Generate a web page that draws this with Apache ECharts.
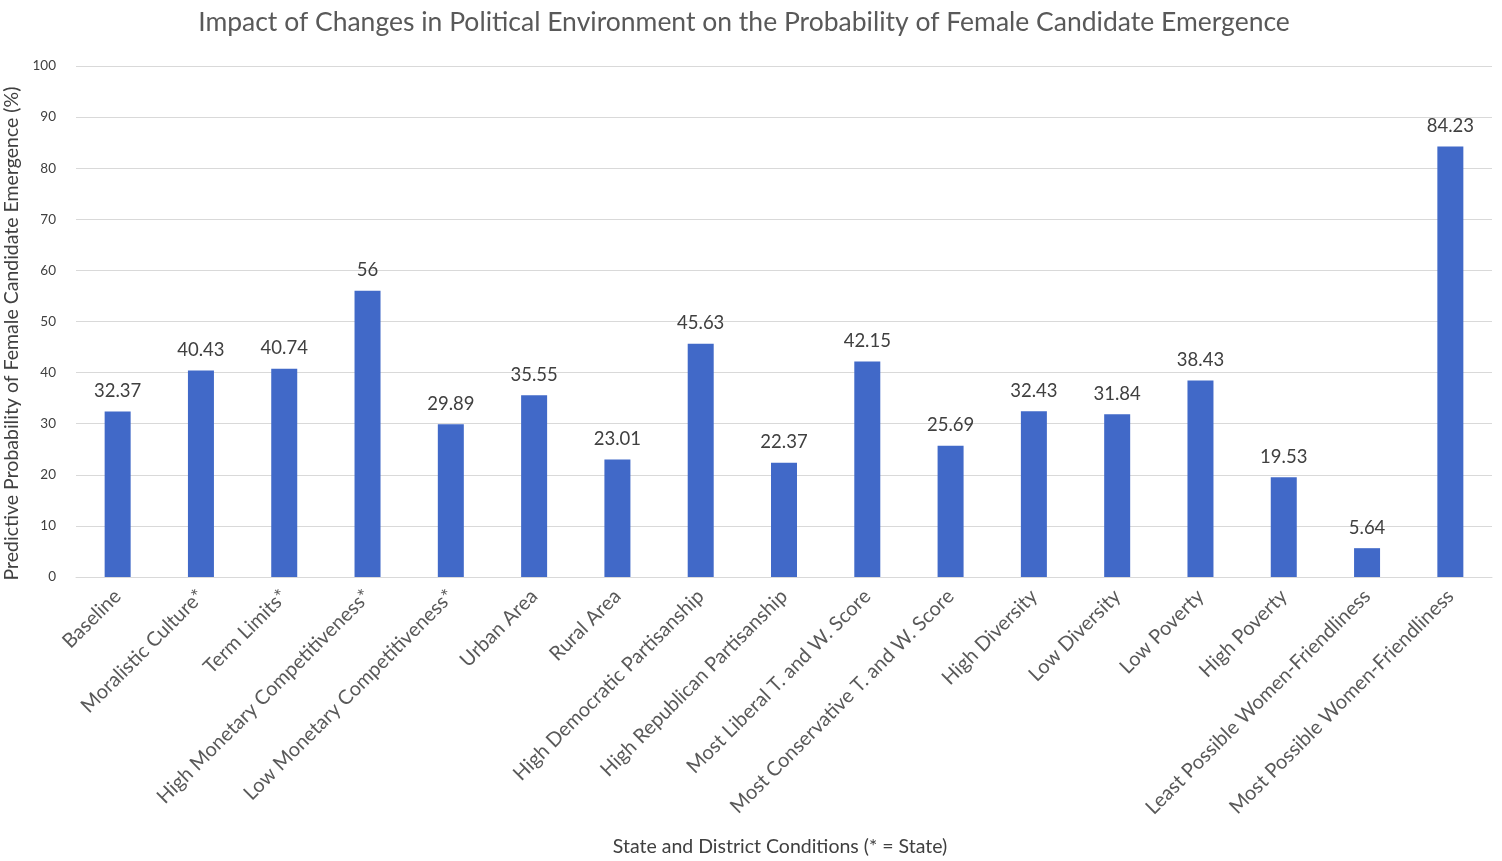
<!DOCTYPE html>
<html>
<head>
<meta charset="utf-8">
<script src="https://cdn.jsdelivr.net/npm/echarts@6/dist/echarts.min.js"></script>
<style>
  html, body { margin: 0; padding: 0; background: #fff; }
  #main { width: 1502px; height: 861px; }
</style>
</head>
<body>
<div id="main"></div>
<script>
var categories = ['Baseline', 'Moralistic Culture*', 'Term Limits*', 'High Monetary Competitiveness*',
  'Low Monetary Competitiveness*', 'Urban Area', 'Rural Area', 'High Democratic Partisanship',
  'High Republican Partisanship', 'Most Liberal T. and W. Score', 'Most Conservative T. and W. Score',
  'High Diversity', 'Low Diversity', 'Low Poverty', 'High Poverty',
  'Least Possible Women-Friendliness', 'Most Possible Women-Friendliness'];
var values = [32.37, 40.43, 40.74, 56, 29.89, 35.55, 23.01, 45.63, 22.37, 42.15, 25.69,
  32.43, 31.84, 38.43, 19.53, 5.64, 84.23];
var title = 'Impact of Changes in Political Environment on the Probability of Female Candidate Emergence';
var font = 'Lato';

var myChart = echarts.init(document.getElementById('main'));
myChart.setOption({
  backgroundColor: '#fff',
  textStyle: { fontFamily: font },
  title: {
    text: title, left: 739, top: 4, textAlign: 'center',
    textStyle: { color: '#595959', fontSize: 26.5, fontWeight: 'normal', fontFamily: font }
  },
  grid: { left: 76, right: 10, top: 66, bottom: 284, outerBoundsMode: 'none', containLabel: false },
  xAxis: {
    type: 'category', data: categories,
    name: 'State and District Conditions (* = State)',
    nameLocation: 'middle', nameGap: 260,
    nameTextStyle: { color: '#404040', fontSize: 19.5, fontFamily: font, padding: [0, 8, 0, 0] },
    axisLine: { lineStyle: { color: '#d9d9d9' } },
    axisTick: { show: false },
    axisLabel: { interval: 0, rotate: 45, margin: 16, color: '#595959', fontSize: 20, fontFamily: font }
  },
  yAxis: {
    type: 'value', min: 0, max: 100, interval: 10,
    name: 'Predictive Probability of Female Candidate Emergence (%)',
    nameLocation: 'middle', nameGap: 39,
    nameTextStyle: { color: '#404040', fontSize: 19.5, fontFamily: font, padding: [0, 24, 0, 0] },
    axisLine: { show: false }, axisTick: { show: false },
    axisLabel: { margin: 20, color: '#404040', fontSize: 13.5, fontFamily: font },
    splitLine: { lineStyle: { color: '#d9d9d9' } }
  },
  series: [{
    type: 'bar', data: values, barWidth: 26,
    itemStyle: { color: '#4169C8' },
    label: { show: true, position: 'top', distance: 11, color: '#404040', fontSize: 18.5, fontFamily: font }
  }]
});
</script>
</body>
</html>
